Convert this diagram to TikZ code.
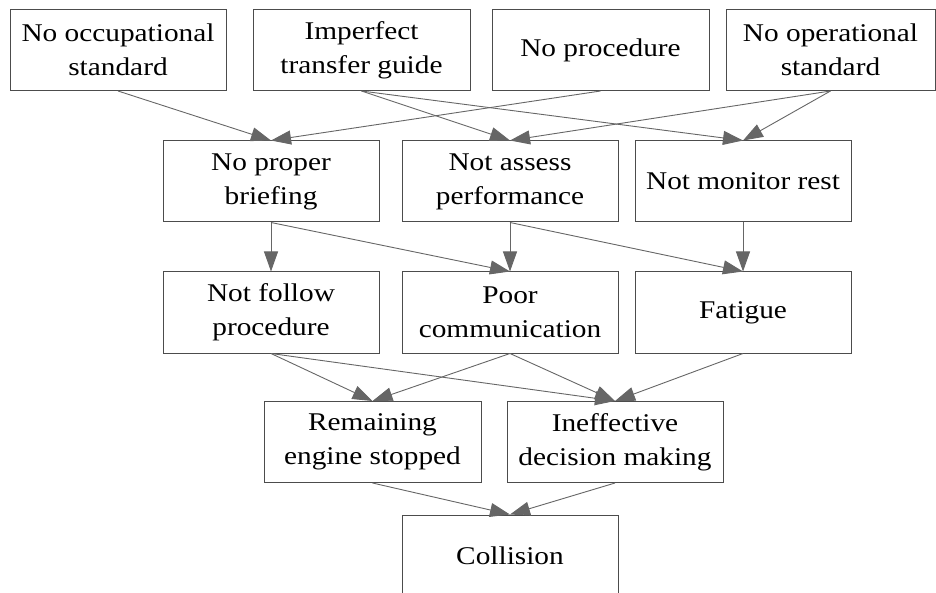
\documentclass[tikz,border=0pt]{standalone}
\usepackage{fontspec}
\setmainfont{Liberation Serif}[FakeStretch=1.15]
\usetikzlibrary{arrows.meta}

\tikzset{
  cause/.style={draw=black!70, line width=1pt, minimum width=216pt, minimum height=81pt,
    inner sep=0pt, align=center, font=\fontsize{25.5pt}{34pt}\selectfont},
  link/.style={draw=black!60, line width=0.9pt, -{Triangle[length=20pt,width=14pt]}}
}

\begin{document}
\begin{tikzpicture}[x=1pt,y=-1pt]
\clip (0,0) rectangle (936,593);

% root causes
\node[cause] (r1-1) at (118,50) {No occupational\\standard};
\node[cause, minimum width=217pt] (r1-2) at (361.5,50) {Imperfect\\transfer guide};
\node[cause, minimum width=217pt] (r1-3) at (600.5,50) {No procedure};
\node[cause, minimum width=209pt] (r1-4) at (830.5,50) {No operational\\standard};

% management failures
\node[cause] (r2-1) at (271,181.5) {No proper\\briefing};
\node[cause] (r2-2) at (510,181.5) {Not assess\\performance};
\node[cause] (r2-3) at (743,181.5) {Not monitor rest};

% crew factors
\node[cause] (r3-1) at (271,312.5) {Not follow\\procedure};
\node[cause] (r3-2) at (510,312.5) {Poor\\communication};
\node[cause] (r3-3) at (743,312.5) {Fatigue};

% unsafe acts
\node[cause, minimum width=217pt] (r4-1) at (372.5,442) {Remaining\\engine stopped};
\node[cause] (r4-2) at (615,442) {Ineffective\\decision making};

\node[cause] (r5-1) at (510,555.5) {Collision};

\foreach \i/\j in {r1-1/r2-1, r1-3/r2-1, r1-2/r2-2, r1-4/r2-2, r1-2/r2-3, r1-4/r2-3,%
            r2-1/r3-1, r2-1/r3-2, r2-2/r3-2, r2-2/r3-3, r2-3/r3-3,%
            r3-1/r4-1, r3-2/r4-1, r3-1/r4-2, r3-2/r4-2, r3-3/r4-2,%
            r4-1/r5-1, r4-2/r5-1%
            }
    \draw[link] (\i.south) -- (\j.north);

\end{tikzpicture}
\end{document}
